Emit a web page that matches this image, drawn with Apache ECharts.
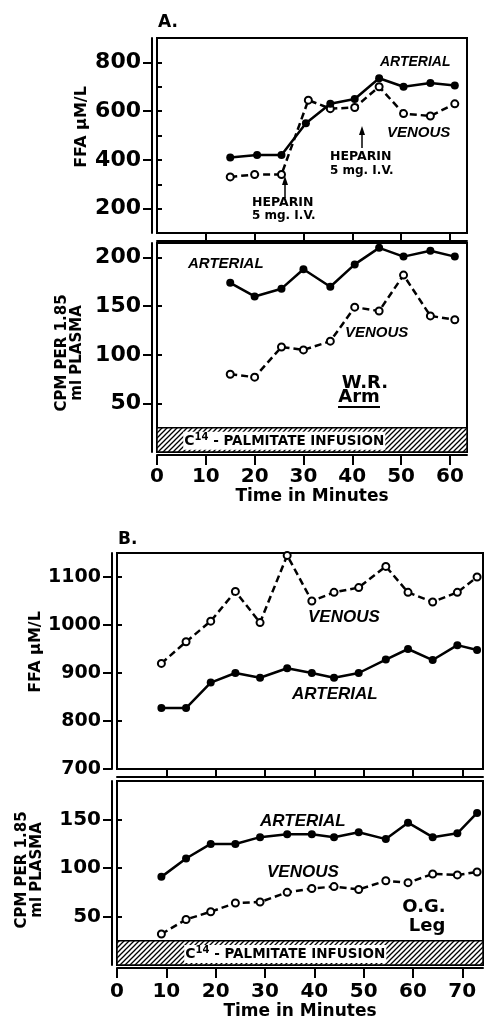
<!DOCTYPE html>
<html>
<head>
<meta charset="utf-8">
<script src="https://cdn.jsdelivr.net/npm/echarts@6/dist/echarts.min.js"></script>
</head>
<body style="margin:0;background:#fff">
<div id="chart" style="width:485px;height:1023px"></div>
<script>
// panel A - W.R. arm
var aFfaArtTime = [15, 20.5, 25.5, 30.5, 35.5, 40.5, 45.5, 50.5, 56, 61];
var aFfaArt = [410, 420, 420, 550, 630, 650, 735, 700, 715, 705];
var aFfaVenTime = [15, 20, 25.5, 31, 35.5, 40.5, 45.5, 50.5, 56, 61];
var aFfaVen = [330, 340, 340, 645, 610, 615, 700, 590, 580, 630];
var aCpmTime = [15, 20, 25.5, 30, 35.5, 40.5, 45.5, 50.5, 56, 61];
var aCpmArt = [174, 160, 168, 188, 170, 193, 210, 201, 207, 201];
var aCpmVen = [80, 77, 108, 105, 114, 149, 145, 182, 140, 136];

// panel B - O.G. leg
var bTime = [9, 14, 19, 24, 29, 34.5, 39.5, 44, 49, 54.5, 59, 64, 69, 73];
var bFfaArt = [827, 827, 880, 900, 890, 910, 900, 890, 900, 928, 950, 927, 958, 948];
var bFfaVen = [920, 965, 1008, 1070, 1005, 1145, 1050, 1068, 1078, 1122, 1068, 1048, 1068, 1100];
var bCpmArt = [91, 110, 125, 125, 132, 135, 135, 132, 137, 130, 147, 132, 136, 157];
var bCpmVen = [32, 47, 55, 64, 65, 75, 79, 81, 78, 87, 85, 94, 93, 96];

// ticks
var aFfaTicks = [200, 400, 600, 800];
var aFfaMinor = [300, 500, 700];
var aCpmTicks = [50, 100, 150, 200];
var bFfaTicks = [700, 800, 900, 1000, 1100];
var bCpmTicks = [50, 100, 150];
var aTimeTicks = [0, 10, 20, 30, 40, 50, 60];
var bTimeTicks = [0, 10, 20, 30, 40, 50, 60, 70];
var infusionTop = 25;
var aTimeMax = 63.5, bTimeMax = 74.2;

var chart = echarts.init(document.getElementById('chart'));

// hatch for the infusion bar
var hatch = document.createElement('canvas');
hatch.width = hatch.height = 5;
var g = hatch.getContext('2d');
g.fillStyle = '#fff'; g.fillRect(0, 0, 5, 5);
g.strokeStyle = '#000'; g.lineWidth = 1.3;
g.beginPath();
g.moveTo(-1, 6); g.lineTo(6, -1);
g.moveTo(-1, 1); g.lineTo(1, -1);
g.moveTo(4, 6); g.lineTo(6, 4);
g.stroke();

var FONT = 'DejaVu Sans';
var black = '#000';

function pairs(t, v) { return t.map(function (x, i) { return [x, v[i]]; }); }

function yAx(grid, min, max, ticks, size) {
  return {
    type: 'value', gridIndex: grid, min: min, max: max, position: 'left', offset: 5,
    axisLine: { show: true, onZero: false, lineStyle: { color: black, width: 2 } },
    axisTick: { show: true, length: 9, customValues: ticks, lineStyle: { color: black, width: 2 } },
    axisLabel: { customValues: ticks, color: black, fontFamily: FONT, fontWeight: 'bold', fontSize: size, margin: 11,
      formatter: function (v) { return String(v); } },
    splitLine: { show: false }
  };
}
function yInner(grid, min, max, ticks) {
  return {
    type: 'value', gridIndex: grid, min: min, max: max, position: 'left', offset: 5,
    axisLine: { show: false },
    axisTick: { show: true, inside: true, length: 5, customValues: ticks, lineStyle: { color: black, width: 2 } },
    axisLabel: { show: false }, splitLine: { show: false }
  };
}
function xTop(grid, max, ticks) {
  return {
    type: 'value', gridIndex: grid, min: 0, max: max, position: 'bottom', offset: 8,
    axisLine: { show: true, onZero: false, lineStyle: { color: black, width: 2 } },
    axisTick: { show: true, inside: true, length: 7, customValues: ticks, lineStyle: { color: black, width: 2 } },
    axisLabel: { show: false }, splitLine: { show: false }
  };
}
function xBottom(grid, max, ticks, margin, gap) {
  return {
    type: 'value', gridIndex: grid, min: 0, max: max, position: 'bottom', offset: 3,
    axisLine: { show: true, onZero: false, lineStyle: { color: black, width: 2 } },
    axisTick: { show: true, length: 10, customValues: ticks, lineStyle: { color: black, width: 2 } },
    axisLabel: { customValues: ticks, color: black, fontFamily: FONT, fontWeight: 'bold', fontSize: 20, margin: margin },
    splitLine: { show: false },
    name: 'Time in Minutes', nameLocation: 'middle', nameGap: gap,
    nameTextStyle: { color: black, fontFamily: FONT, fontWeight: 'bold', fontSize: 17 }
  };
}
function line(idx, data, dashed, infusion) {
  var s = {
    type: 'line', xAxisIndex: idx, yAxisIndex: idx, data: data,
    symbol: 'circle', symbolSize: dashed ? 7 : 8,
    lineStyle: { color: black, width: 2.5, type: dashed ? [7, 4] : 'solid' },
    itemStyle: { color: dashed ? '#fff' : black, borderColor: black, borderWidth: dashed ? 2 : 0 },
    z: dashed ? 3 : 4
  };
  if (infusion) {
    s.markArea = {
      silent: true,
      itemStyle: { color: { image: hatch, repeat: 'repeat' }, borderColor: black, borderWidth: 1.5 },
      label: {
        show: true, position: 'insideLeft', offset: [infusion.off, 1],
        backgroundColor: '#fff', padding: [1, 1, 0, 1],
        formatter: '{c|C}{s|14}{t| - PALMITATE INFUSION}',
        rich: {
          c: { fontFamily: FONT, fontWeight: 'bold', fontSize: 14, color: black },
          s: { fontFamily: FONT, fontWeight: 'bold', fontSize: 10, color: black, padding: [0, 0, 7, 0] },
          t: { fontFamily: FONT, fontWeight: 'bold', fontSize: 13.5, color: black }
        }
      },
      data: [[{ xAxis: 0, yAxis: 0 }, { xAxis: infusion.max, yAxis: infusionTop }]]
    };
  }
  return s;
}

function txt(x, y, text, font, align) {
  return { type: 'text', x: x, y: y, style: { text: text, font: font, fill: black, textAlign: align || 'left', textVerticalAlign: 'middle' } };
}
function vtxt(x, y, text, size) {
  return { type: 'text', x: x, y: y, rotation: Math.PI / 2,
    style: { text: text, font: 'bold ' + size + 'px "DejaVu Sans"', fill: black, textAlign: 'center', textVerticalAlign: 'middle', lineHeight: 15 } };
}
function arrow(x, y0, y1) {
  return [
    { type: 'line', shape: { x1: x, y1: y0, x2: x, y2: y1 + 4 }, style: { stroke: black, lineWidth: 1.5 } },
    { type: 'polygon', shape: { points: [[x, y1], [x - 3, y1 + 9], [x + 3, y1 + 9]] }, style: { fill: black } }
  ];
}

var ital = function (s) { return 'italic bold ' + s + 'px "Liberation Sans"'; };
var bold = function (s) { return 'bold ' + s + 'px "DejaVu Sans"'; };

var graphics = [
  txt(158, 23, 'A.', bold(17)),
  txt(118, 540, 'B.', bold(17)),
  vtxt(82, 127, 'FFA \u03bcM/L', 16),
  vtxt(70, 353, 'CPM PER 1.85\nml PLASMA', 15),
  vtxt(36, 652, 'FFA \u03bcM/L', 16),
  vtxt(30, 870, 'CPM PER 1.85\nml PLASMA', 15),
  txt(380, 62, 'ARTERIAL', ital(14)),
  txt(387, 133, 'VENOUS', ital(15)),
  txt(252, 203, 'HEPARIN', bold(12.5)),
  txt(252, 216, '5 mg. I.V.', bold(12)),
  txt(330, 157, 'HEPARIN', bold(12.5)),
  txt(330, 171, '5 mg. I.V.', bold(12)),
  txt(188, 264, 'ARTERIAL', ital(15)),
  txt(345, 333, 'VENOUS', ital(15)),
  txt(365, 383, 'W.R.', bold(18), 'center'),
  txt(359, 397, 'Arm', bold(18), 'center'),
  { type: 'line', shape: { x1: 338, y1: 407, x2: 380, y2: 407 }, style: { stroke: black, lineWidth: 2 } },
  txt(308, 617, 'VENOUS', ital(17)),
  txt(292, 694, 'ARTERIAL', ital(17)),
  txt(260, 821, 'ARTERIAL', ital(17)),
  txt(267, 872, 'VENOUS', ital(17)),
  txt(424, 907, 'O.G.', bold(18), 'center'),
  txt(427, 926, 'Leg', bold(18), 'center')
].concat(arrow(285, 198, 176), arrow(362, 148, 126));

var gridStyle = { show: true, borderColor: black, borderWidth: 2, backgroundColor: 'transparent' };

chart.setOption({
  animation: false,
  grid: [
    Object.assign({ left: 157, top: 38, width: 310, height: 195 }, gridStyle),
    Object.assign({ left: 157, top: 243, width: 310, height: 209 }, gridStyle),
    Object.assign({ left: 117, top: 553, width: 366, height: 216 }, gridStyle),
    Object.assign({ left: 117, top: 781, width: 366, height: 184 }, gridStyle)
  ],
  xAxis: [
    xTop(0, aTimeMax, aTimeTicks.slice(1)),
    xBottom(1, aTimeMax, aTimeTicks, 12, 30),
    xTop(2, bTimeMax, bTimeTicks.slice(1)),
    xBottom(3, bTimeMax, bTimeTicks, 14, 34)
  ],
  yAxis: [
    yAx(0, 100, 900, aFfaTicks, 22),
    yAx(1, 0, 215, aCpmTicks, 22),
    yAx(2, 700, 1150, bFfaTicks, 19),
    yAx(3, 0, 190, bCpmTicks, 20),
    yInner(0, 100, 900, aFfaTicks.concat(aFfaMinor)),
    yInner(1, 0, 215, aCpmTicks),
    yInner(2, 700, 1150, bFfaTicks),
    yInner(3, 0, 190, bCpmTicks)
  ],
  series: [
    line(0, pairs(aFfaArtTime, aFfaArt), false),
    line(0, pairs(aFfaVenTime, aFfaVen), true),
    line(1, pairs(aCpmTime, aCpmArt), false, { max: aTimeMax, off: 22 }),
    line(1, pairs(aCpmTime, aCpmVen), true),
    line(2, pairs(bTime, bFfaArt), false),
    line(2, pairs(bTime, bFfaVen), true),
    line(3, pairs(bTime, bCpmArt), false, { max: bTimeMax, off: 63 }),
    line(3, pairs(bTime, bCpmVen), true)
  ],
  graphic: graphics
});
</script>
</body>
</html>
